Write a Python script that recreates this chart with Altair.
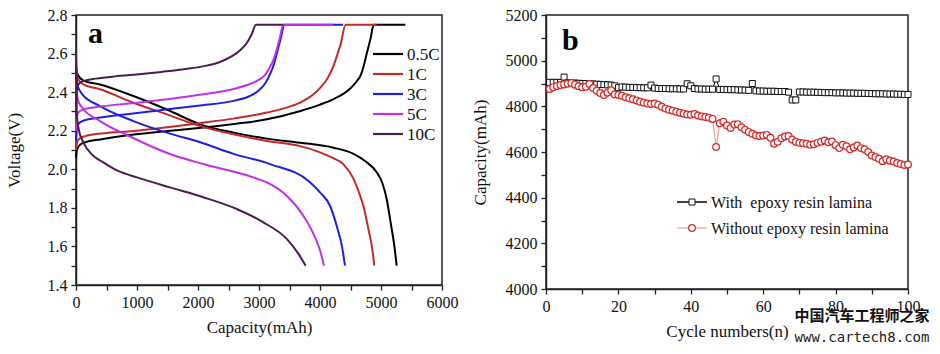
import altair as alt
import pandas as pd

# ---------------- Panel a: charge / discharge curves ----------------
RATES = ["0.5C", "1C", "3C", "5C", "10C"]
COLORS = ["#000000", "#c42a2a", "#2020d8", "#c230e6", "#4a1c52"]

CH_05_CAP = [0, 15, 60, 150, 400, 950, 1500, 2050, 2600, 3130, 3680, 4000, 4230, 4400, 4500, 4600, 4670, 4720, 4770, 4830, 4880, 5400]
CH_05_V = [2.06, 2.10, 2.125, 2.14, 2.155, 2.18, 2.198, 2.215, 2.235, 2.259, 2.302, 2.335, 2.365, 2.395, 2.42, 2.455, 2.49, 2.54, 2.605, 2.68, 2.75, 2.75]
CH_1_CAP = [0, 15, 60, 150, 400, 950, 1500, 2050, 2600, 3130, 3500, 3700, 3900, 4010, 4120, 4220, 4290, 4340, 4420, 4930]
CH_1_V = [2.10, 2.14, 2.16, 2.172, 2.185, 2.198, 2.218, 2.24, 2.264, 2.294, 2.325, 2.35, 2.39, 2.425, 2.47, 2.535, 2.6, 2.65, 2.75, 2.75]
CH_3_CAP = [0, 10, 40, 120, 400, 900, 1500, 2000, 2600, 2850, 3000, 3100, 3190, 3250, 3300, 3350, 3420, 4380]
CH_3_V = [2.15, 2.2, 2.235, 2.252, 2.268, 2.288, 2.311, 2.33, 2.356, 2.38, 2.41, 2.445, 2.50, 2.55, 2.61, 2.67, 2.75, 2.75]
CH_5_CAP = [0, 10, 40, 120, 400, 900, 1500, 2000, 2600, 2850, 3000, 3100, 3180, 3240, 3290, 3340, 3400, 4210]
CH_5_V = [2.2, 2.26, 2.295, 2.31, 2.325, 2.342, 2.363, 2.385, 2.418, 2.442, 2.465, 2.49, 2.53, 2.57, 2.62, 2.68, 2.75, 2.75]
CH_10_CAP = [0, 10, 40, 100, 280, 600, 950, 1400, 1800, 2100, 2350, 2550, 2700, 2800, 2880, 2950, 3400]
CH_10_V = [2.32, 2.40, 2.44, 2.455, 2.468, 2.48, 2.49, 2.505, 2.52, 2.535, 2.555, 2.585, 2.62, 2.655, 2.70, 2.75, 2.75]

DC_05_CAP = [0, 30, 120, 394, 940, 1488, 2035, 2582, 3128, 3675, 4222, 4550, 4750, 4929, 5020, 5093, 5160, 5220, 5257]
DC_05_V = [2.52, 2.49, 2.46, 2.44, 2.38, 2.31, 2.233, 2.19, 2.159, 2.138, 2.112, 2.08, 2.04, 1.985, 1.93, 1.846, 1.72, 1.6, 1.5]
DC_1_CAP = [0, 30, 120, 394, 940, 1488, 2035, 2582, 3128, 3675, 4000, 4200, 4382, 4550, 4650, 4710, 4800, 4860, 4890]
DC_1_V = [2.56, 2.47, 2.44, 2.415, 2.345, 2.285, 2.224, 2.181, 2.147, 2.12, 2.088, 2.06, 2.027, 1.95, 1.87, 1.811, 1.68, 1.58, 1.5]
DC_3_CAP = [0, 30, 100, 394, 940, 1541, 2035, 2582, 3180, 3836, 4000, 4164, 4280, 4360, 4410]
DC_3_V = [2.52, 2.43, 2.39, 2.328, 2.25, 2.185, 2.14, 2.08, 2.027, 1.933, 1.88, 1.811, 1.70, 1.6, 1.5]
DC_5_CAP = [0, 30, 100, 394, 885, 1541, 2087, 2907, 3200, 3454, 3727, 3900, 4000, 4066]
DC_5_V = [2.46, 2.36, 2.32, 2.25, 2.17, 2.079, 2.027, 1.958, 1.92, 1.863, 1.759, 1.66, 1.58, 1.5]
DC_10_CAP = [0, 10, 50, 120, 250, 448, 700, 1000, 1541, 2087, 2634, 3071, 3454, 3650, 3765]
DC_10_V = [2.62, 2.3, 2.2, 2.14, 2.08, 2.036, 1.99, 1.958, 1.906, 1.855, 1.794, 1.725, 1.639, 1.56, 1.5]

CURVES = [
    ("0.5C", "charge", CH_05_CAP, CH_05_V), ("0.5C", "discharge", DC_05_CAP, DC_05_V),
    ("1C", "charge", CH_1_CAP, CH_1_V), ("1C", "discharge", DC_1_CAP, DC_1_V),
    ("3C", "charge", CH_3_CAP, CH_3_V), ("3C", "discharge", DC_3_CAP, DC_3_V),
    ("5C", "charge", CH_5_CAP, CH_5_V), ("5C", "discharge", DC_5_CAP, DC_5_V),
    ("10C", "charge", CH_10_CAP, CH_10_V), ("10C", "discharge", DC_10_CAP, DC_10_V),
]

rows = []
for rate, phase, caps, vs in CURVES:
    for i, (c, v) in enumerate(zip(caps, vs)):
        rows.append({"rate": rate, "curve": rate + "-" + phase, "i": i, "cap": c, "v": v})
df_a = pd.DataFrame(rows)

# ---------------- Panel b: cycling ----------------
CYCLES = list(range(1, 101))
WITH_LAMINA = [
    4905, 4905, 4905, 4904, 4928, 4903, 4902, 4902, 4901, 4900,
    4900, 4899, 4898, 4897, 4896, 4895, 4894, 4893, 4890, 4882,
    4885, 4884, 4883, 4883, 4882, 4882, 4881, 4881, 4893, 4880,
    4878, 4878, 4878, 4877, 4877, 4877, 4876, 4876, 4899, 4890,
    4878, 4876, 4876, 4875, 4875, 4875, 4920, 4874, 4874, 4873,
    4873, 4873, 4872, 4872, 4871, 4870, 4900, 4868, 4867, 4867,
    4866, 4866, 4866, 4865, 4865, 4865, 4862, 4828, 4828, 4863,
    4863, 4862, 4862, 4862, 4861, 4861, 4860, 4860, 4860, 4859,
    4859, 4859, 4858, 4858, 4858, 4857, 4857, 4857, 4856, 4856,
    4855, 4855, 4855, 4854, 4854, 4854, 4853, 4853, 4852, 4852,
]
WITHOUT_LAMINA = [
    4876, 4884, 4889, 4893, 4896, 4899, 4902, 4895, 4888, 4883,
    4886, 4898, 4880, 4868, 4858, 4850, 4860, 4870, 4852, 4850,
    4846, 4840, 4835, 4831, 4826, 4820, 4816, 4812, 4810, 4812,
    4807, 4798, 4790, 4785, 4781, 4776, 4772, 4768, 4764, 4763,
    4766, 4760, 4756, 4753, 4750, 4745, 4622, 4726, 4733, 4716,
    4705, 4720, 4722, 4708, 4698, 4688, 4680, 4672, 4670, 4672,
    4675, 4662, 4636, 4645, 4660, 4668, 4670, 4655, 4645, 4640,
    4638, 4636, 4632, 4634, 4640, 4645, 4650, 4643, 4646, 4630,
    4617, 4632, 4625, 4612, 4620, 4628, 4617, 4612, 4600, 4585,
    4578, 4570, 4560, 4568, 4562, 4558, 4552, 4547, 4543, 4545,
]
SERIES_B = ["With\u00a0 epoxy resin lamina", "Without epoxy resin lamina"]

df_with = pd.DataFrame({"n": CYCLES, "cap": WITH_LAMINA})
df_without = pd.DataFrame({"n": CYCLES, "cap": WITHOUT_LAMINA})

FONT = "Liberation Serif"
INK = "#111111"

# ---------------- build panel a ----------------
xa = alt.X("cap:Q", scale=alt.Scale(domain=[0, 6000], nice=False, zero=False),
           axis=alt.Axis(values=list(range(0, 6001, 500)),
                         labelExpr="datum.value % 1000 == 0 ? format(datum.value, 'd') : ''",
                         title="Capacity(mAh)", titlePadding=9))
ya = alt.Y("v:Q", scale=alt.Scale(domain=[1.4, 2.8], nice=False, zero=False),
           axis=alt.Axis(values=[round(1.4 + 0.1 * k, 1) for k in range(15)],
                         labelExpr="round(datum.value * 10) % 2 == 0 ? format(datum.value, '.1f') : ''",
                         title="Voltage(V)", titlePadding=24))

curves = alt.Chart(df_a).mark_line(strokeWidth=2, interpolate="monotone").encode(
    x=xa, y=ya,
    color=alt.Color("rate:N", scale=alt.Scale(domain=RATES, range=COLORS), legend=None),
    detail="curve:N",
    order="i:Q",
)

layers_a = [curves]
for k, (rate, col) in enumerate(zip(RATES, COLORS)):
    one = pd.DataFrame({"label": [rate]})
    layers_a.append(alt.Chart(one).mark_rule(strokeWidth=2.2, color=col).encode(
        x=alt.value(297), x2=alt.value(327), y=alt.value(39 + 20 * k)))
    layers_a.append(alt.Chart(one).mark_text(font=FONT, fontSize=17, align="left",
                                             baseline="middle", color=INK).encode(
        x=alt.value(331), y=alt.value(40 + 20 * k), text="label:N"))
layers_a.append(alt.Chart(pd.DataFrame({"t": ["a"]})).mark_text(
    font=FONT, fontSize=30, fontWeight="bold", align="left", baseline="alphabetic", color="#000").encode(
    x=alt.value(12), y=alt.value(28), text="t:N"))

panel_a = alt.layer(*layers_a).properties(width=366, height=270)

# ---------------- build panel b ----------------
xb = alt.X("n:Q", scale=alt.Scale(domain=[0, 100], nice=False, zero=False),
           axis=alt.Axis(values=list(range(0, 101, 10)),
                         labelExpr="datum.value % 20 == 0 ? format(datum.value, 'd') : ''",
                         title="Cycle numbers(n)", titlePadding=9))
yb = alt.Y("cap:Q", scale=alt.Scale(domain=[4000, 5200], nice=False, zero=False),
           axis=alt.Axis(values=list(range(4000, 5201, 100)),
                         labelExpr="datum.value % 200 == 0 ? format(datum.value, 'd') : ''",
                         title="Capacity(mAh)", titlePadding=16))

line_with = alt.Chart(df_with).mark_line(strokeWidth=1, color="#000").encode(x=xb, y=yb)
pts_with = alt.Chart(df_with).mark_point(shape="square", size=36, filled=True, fill="white",
                                         stroke="#111", strokeWidth=1, opacity=1).encode(x=xb, y=yb)
line_without = alt.Chart(df_without).mark_line(strokeWidth=0.8, color="#e07070").encode(x=xb, y=yb)
pts_without = alt.Chart(df_without).mark_point(shape="circle", size=46, filled=True, fill="white",
                                               stroke="#d42c2c", strokeWidth=1.2, opacity=1).encode(x=xb, y=yb)

layers_b = [line_with, pts_with, line_without, pts_without]
leg_styles = [("#000", 1.5, "square", "#111", 36, 1.0), ("#e07070", 0.8, "circle", "#d42c2c", 46, 1.2)]
for k, (lab, st) in enumerate(zip(SERIES_B, leg_styles)):
    lc, lw, shp, sc, ssz, ssw = st
    one = pd.DataFrame({"label": [lab]})
    yy = 187 + 26 * k
    layers_b.append(alt.Chart(one).mark_rule(strokeWidth=lw, color=lc).encode(
        x=alt.value(131), x2=alt.value(161), y=alt.value(yy)))
    layers_b.append(alt.Chart(one).mark_point(shape=shp, size=ssz, filled=True, fill="white",
                                              stroke=sc, strokeWidth=ssw, opacity=1).encode(
        x=alt.value(146), y=alt.value(yy)))
    layers_b.append(alt.Chart(one).mark_text(font=FONT, fontSize=16, align="left",
                                             baseline="middle", color=INK).encode(
        x=alt.value(165), y=alt.value(yy + 1), text="label:N"))
layers_b.append(alt.Chart(pd.DataFrame({"t": ["b"]})).mark_text(
    font=FONT, fontSize=30, fontWeight="bold", align="left", baseline="alphabetic", color="#000").encode(
    x=alt.value(16), y=alt.value(35), text="t:N"))
# watermark
layers_b.append(alt.Chart(pd.DataFrame({"t": ["中国汽车工程师之家"]})).mark_text(
    font="Noto Sans CJK SC", fontSize=15, fontWeight="bold", align="center", baseline="middle", color="#111").encode(
    x=alt.value(316), y=alt.value(301), text="t:N"))
layers_b.append(alt.Chart(pd.DataFrame({"t": ["www.cartech8.com"]})).mark_text(
    font="DejaVu Sans Mono", fontSize=14, align="center", baseline="middle", color="#222").encode(
    x=alt.value(316), y=alt.value(323), text="t:N"))

panel_b = alt.layer(*layers_b).properties(width=362, height=274)

chart = alt.hconcat(panel_a, panel_b, spacing=11).properties(
    padding={"left": 4, "top": 6, "right": 0, "bottom": 0},
    background="white",
).configure_view(
    stroke="#222", strokeWidth=1.5
).configure_axis(
    grid=False, domainColor="#222", domainWidth=1.5, tickColor="#222", tickWidth=1.3,
    tickSize=5, labelPadding=4, labelFont=FONT, labelFontSize=16, labelColor=INK,
    titleFont=FONT, titleFontSize=17, titleColor=INK, titleFontWeight="normal",
    labelFlush=False, labelOverlap=False, labelBound=False,
)

chart.save("out.html", embed_options={"renderer": "svg", "actions": False})
